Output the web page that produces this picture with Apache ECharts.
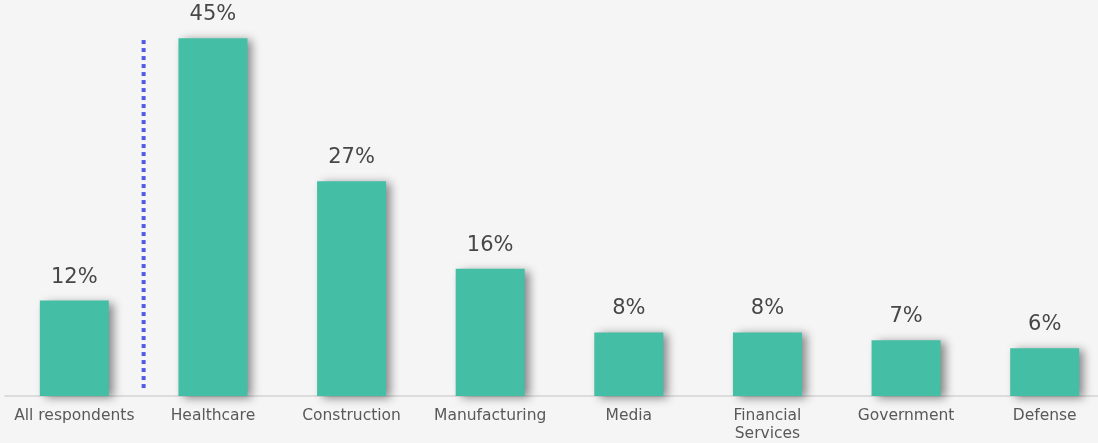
<!DOCTYPE html>
<html>
<head>
<meta charset="utf-8">
<script src="https://cdn.jsdelivr.net/npm/echarts@6/dist/echarts.min.js"></script>
<style>
  html, body { margin: 0; padding: 0; background: #f5f5f5; }
  #chart { width: 1098px; height: 443px; }
</style>
</head>
<body>
<div id="chart"></div>
<script>
// Share of respondents by sector
const categories = ['All respondents', 'Healthcare', 'Construction', 'Manufacturing', 'Media', 'Financial\nServices', 'Government', 'Defense'];
const values = [12, 45, 27, 16, 8, 8, 7, 6];
// Separator between the overall figure and the sectors (x in category units, y in percent)
const separator = [[0.5, 1.0], [0.5, 45]];

const chart = echarts.init(document.getElementById('chart'));
const font = '"DejaVu Sans", sans-serif';

chart.setOption({
  backgroundColor: '#f5f5f5',
  animation: false,
  grid: { left: 5, width: 1109, top: 0, bottom: 47, containLabel: false, outerBoundsMode: 'none' },
  xAxis: [
    {
      type: 'category',
      data: categories,
      axisLine: { lineStyle: { color: '#dcdcdc', width: 2 } },
      axisTick: { show: false },
      axisLabel: { color: '#595959', fontFamily: font, fontSize: 15.5, margin: 11, lineHeight: 18, interval: 0 }
    },
    {
      type: 'value',
      min: -0.5,
      max: 7.5,
      show: false
    }
  ],
  yAxis: {
    type: 'value',
    min: 0,
    max: 49.8,
    show: false,
    splitLine: { show: false }
  },
  series: [
    {
      type: 'bar',
      xAxisIndex: 0,
      data: values,
      barWidth: 69,
      itemStyle: {
        color: '#45bea6',
        shadowColor: 'rgba(0,0,0,0.45)',
        shadowBlur: 9,
        shadowOffsetX: 5,
        shadowOffsetY: 2
      },
      label: {
        show: true,
        position: 'top',
        distance: 13,
        formatter: '{c}%',
        color: '#474747',
        fontFamily: font,
        fontSize: 21
      }
    },
    {
      type: 'line',
      xAxisIndex: 1,
      data: separator,
      symbol: 'none',
      lineStyle: { color: '#4f5ce6', width: 4, type: [4, 4], cap: 'butt' },
      z: 1
    }
  ]
});
</script>
</body>
</html>
